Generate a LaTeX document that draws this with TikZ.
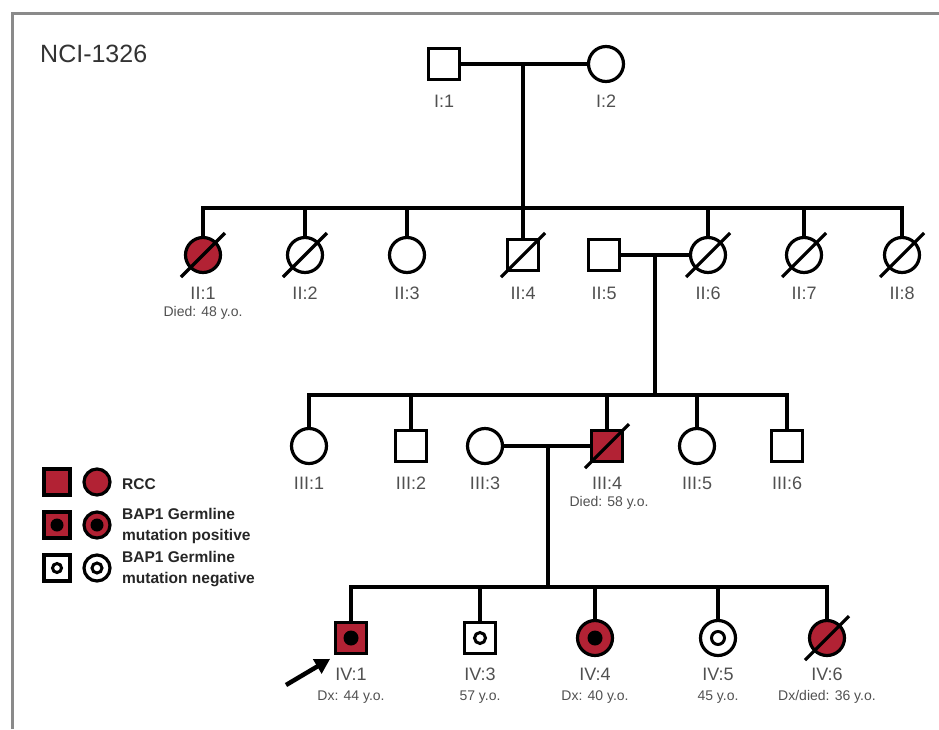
\documentclass[tikz,border=0pt]{standalone}
\usepackage{fontspec}
\setmainfont{Liberation Sans}
\usetikzlibrary{arrows.meta,positioning}

\definecolor{rcc}{RGB}{178,34,52}
\definecolor{framegray}{RGB}{138,138,138}
\definecolor{labgray}{RGB}{80,80,80}

% slash through a deceased individual
\newcommand{\deceased}[1]{\draw[slash] ([shift={(-22,22)}]#1.center) -- ([shift={(22,-22)}]#1.center);}

\begin{document}
\begin{tikzpicture}[x=1pt,y=-1pt,
			male/.style={draw,rectangle,line width=3.2pt,minimum size=30.5pt,inner sep=0pt},
			female/.style={draw,circle,line width=3.2pt,minimum size=35pt,inner sep=0pt},
			legsize/.style={minimum size=26pt},
			affected/.style={fill=rcc},
			positive/.style={path picture={\fill[black] (path picture bounding box.center) circle (#1);}},
			positive/.default=7.5pt,
			negative/.style={path picture={\draw[black,line width=3pt] (path picture bounding box.center) circle (#1);}},
			negative/.default=5.5pt,
			line/.style={line width=3.2pt},
			slash/.style={line width=3.2pt},
			idlab/.style={text=labgray,font=\fontsize{18}{20}\selectfont,inner sep=0pt},
			agelab/.style={text=labgray,font=\fontsize{14}{16}\selectfont,inner sep=0pt},
			legtext/.style={text=black!85,font=\fontsize{15.5}{20.5}\selectfont\bfseries,inner sep=0pt,align=left,anchor=west}]
			\useasboundingbox (0,0) rectangle (939,729);
			\draw[framegray,line width=3pt] (12,729) -- (12,13) -- (939,13);
			\node[anchor=west,inner sep=0pt,text=black!80,font=\fontsize{25}{28}\selectfont] (title) at (40,54) {NCI-1326};

			% generation I
			\node[male] (I1) at (444,64) {};
			\node[female] (I2) at (606,64) {};
			\node[idlab] (I1l) at (444,101) {I:1};
			\node[idlab] (I2l) at (606,101) {I:2};

			% generation II
			\node[female,affected] (II1) at (203,255) {};
			\node[female] (II2) at (305,255) {};
			\node[female] (II3) at (407,255) {};
			\node[male] (II4) at (523,255) {};
			\node[male] (II5) at (604,255) {};
			\node[female] (II6) at (708,255) {};
			\node[female] (II7) at (804,255) {};
			\node[female] (II8) at (902,255) {};
			\node[idlab] (II1l) at (203,293) {II:1};
			\node[idlab] (II2l) at (305,293) {II:2};
			\node[idlab] (II3l) at (407,293) {II:3};
			\node[idlab] (II4l) at (523,293) {II:4};
			\node[idlab] (II5l) at (604,293) {II:5};
			\node[idlab] (II6l) at (708,293) {II:6};
			\node[idlab] (II7l) at (804,293) {II:7};
			\node[idlab] (II8l) at (902,293) {II:8};
			\node[agelab] (II1a) at (203,313) {Died: 48 y.o.};

			% generation III
			\node[female] (III1) at (309,446) {};
			\node[male] (III2) at (411,446) {};
			\node[female] (III3) at (485,446) {};
			\node[male,affected] (III4) at (607,446) {};
			\node[female] (III5) at (697,446) {};
			\node[male] (III6) at (787,446) {};
			\node[idlab] (III1l) at (309,483) {III:1};
			\node[idlab] (III2l) at (411,483) {III:2};
			\node[idlab] (III3l) at (485,483) {III:3};
			\node[idlab] (III4l) at (607,483) {III:4};
			\node[idlab] (III5l) at (697,483) {III:5};
			\node[idlab] (III6l) at (787,483) {III:6};
			\node[agelab] (III4a) at (609,503) {Died: 58 y.o.};

			% generation IV
			\node[male,affected,positive] (IV1) at (351,638) {};
			\node[male,negative] (IV3) at (480,638) {};
			\node[female,affected,positive] (IV4) at (595,638) {};
			\node[female,negative=6.5pt] (IV5) at (718,638) {};
			\node[female,affected] (IV6) at (827,638) {};
			\node[idlab] (IV1l) at (351,674) {IV:1};
			\node[idlab] (IV3l) at (480,674) {IV:3};
			\node[idlab] (IV4l) at (595,674) {IV:4};
			\node[idlab] (IV5l) at (718,674) {IV:5};
			\node[idlab] (IV6l) at (827,674) {IV:6};
			\node[agelab] (IV1a) at (351,697) {Dx: 44 y.o.};
			\node[agelab] (IV3a) at (480,697) {57 y.o.};
			\node[agelab] (IV4a) at (595,697) {Dx: 40 y.o.};
			\node[agelab] (IV5a) at (718,697) {45 y.o.};
			\node[agelab] (IV6a) at (827,697) {Dx/died: 36 y.o.};

			% matings and sibships
			\coordinate (m1) at (523,64);
			\coordinate (s2) at (523,208);
			\draw[line] (I1) -- (I2);
			\draw[line] (m1) -- (s2);
			\draw[line] (II1.north) |- (II8.north |- s2) -- (II8.north);
			\foreach \c in {II2,II3,II4,II6,II7} {\draw[line] (\c.north) -- (\c.north |- s2);}

			\coordinate (m2) at (655,255);
			\coordinate (s3) at (655,395);
			\draw[line] (II5) -- (II6);
			\draw[line] (m2) -- (s3);
			\draw[line] (III1.north) |- (III6.north |- s3) -- (III6.north);
			\foreach \c in {III2,III4,III5} {\draw[line] (\c.north) -- (\c.north |- s3);}

			\coordinate (m3) at (548,446);
			\coordinate (s4) at (548,587);
			\draw[line] (III3) -- (III4);
			\draw[line] (m3) -- (s4);
			\draw[line] (IV1.north) |- (IV6.north |- s4) -- (IV6.north);
			\foreach \c in {IV3,IV4,IV5} {\draw[line] (\c.north) -- (\c.north |- s4);}

			% deceased
			\foreach \c in {II1,II2,II4,II6,II7,II8,III4,IV6} {\deceased{\c}}

			% proband
			\coordinate (ptr) at (286,685);
			\draw[line width=4.5pt,-{Triangle[length=15pt,width=16pt]}] (ptr) -- ([shift={(-4,4)}]IV1.south west);

			% legend
			\node[male,legsize,affected] (lgR1) at (57,482) {};
			\node[female,legsize,affected] (lgR2) at (97,482) {};
			\node[legtext] (lgRt) at (122,484) {RCC};
			\node[male,legsize,affected,positive=6.5pt] (lgP1) at (57,525) {};
			\node[female,legsize,affected,positive=6.5pt] (lgP2) at (97,525) {};
			\node[legtext] (lgPt) at (122,526) {BAP1 Germline\\mutation positive};
			\node[male,legsize,negative=4.5pt] (lgN1) at (57,568) {};
			\node[female,legsize,negative=5pt] (lgN2) at (97,568) {};
			\node[legtext] (lgNt) at (122,569) {BAP1 Germline\\mutation negative};
		\end{tikzpicture}
\end{document}
